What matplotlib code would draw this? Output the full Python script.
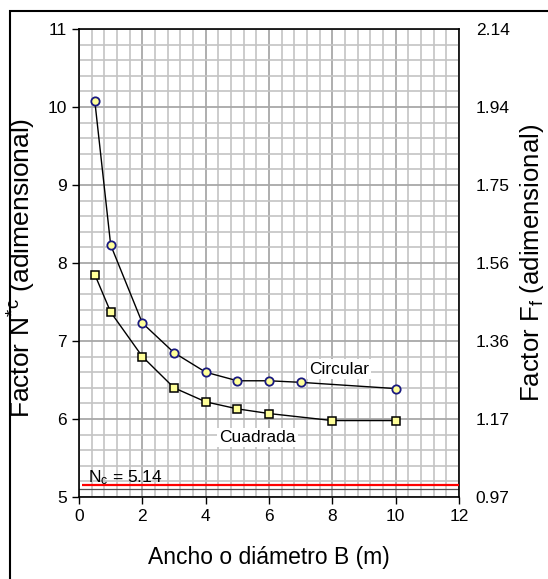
import numpy as np
import matplotlib.pyplot as plt
from matplotlib.ticker import MultipleLocator
from matplotlib.patches import Rectangle

plt.rcParams['font.family'] = ['Liberation Sans', 'DejaVu Sans']
plt.rcParams['mathtext.fontset'] = 'custom'
plt.rcParams['mathtext.rm'] = 'Liberation Sans'
plt.rcParams['mathtext.it'] = 'Liberation Sans'

# Data
b_circ = [0.5, 1, 2, 3, 4, 5, 6, 7, 10]
nc_circ = [10.07, 8.23, 7.23, 6.85, 6.60, 6.49, 6.49, 6.47, 6.39]
b_sq = [0.5, 1, 2, 3, 4, 5, 6, 8, 10]
nc_sq = [7.85, 7.37, 6.80, 6.40, 6.22, 6.13, 6.07, 5.98, 5.98]
nc_strip = 5.14
right_ticks = [5, 6, 7, 8, 9, 10, 11]
right_labels = ['0.97', '1.17', '1.36', '1.56', '1.75', '1.94', '2.14']

fig = plt.figure(figsize=(5.48, 5.79), dpi=100)
ax = fig.add_axes([0.1442, 0.1416, 0.6934, 0.8084])

# frame around the figure
fig.patches.append(Rectangle((10 / 548, -0.05), 1.1, 1 - 11 / 579 + 0.05,
                             transform=fig.transFigure, fill=False,
                             edgecolor='black', linewidth=1.5))

ax.set_xlim(0, 12)
ax.set_ylim(5, 11)
ax.xaxis.set_major_locator(MultipleLocator(2))
ax.xaxis.set_minor_locator(MultipleLocator(0.4))
ax.yaxis.set_major_locator(MultipleLocator(1))
ax.yaxis.set_minor_locator(MultipleLocator(0.2))
ax.grid(which='minor', color='#c4c4c4', linewidth=1.2)
ax.grid(which='major', color='#a8a8a8', linewidth=1.3)
ax.set_axisbelow(True)
ax.tick_params(which='minor', length=0)
ax.tick_params(which='major', length=5, width=1, labelsize=12.5, direction='out')

ax.axhline(5.1, color='#505050', linewidth=0.9)
ax.hlines(nc_strip + 0.015, 0.1, 12, color='red', linewidth=1.6, zorder=3)

ax.plot(b_circ, nc_circ, color='black', linewidth=1, marker='o', markersize=6,
        markerfacecolor='#ffff99', markeredgecolor='#1a1a80', markeredgewidth=1.3, zorder=4)
ax.plot(b_sq, nc_sq, color='black', linewidth=1, marker='s', markersize=6,
        markerfacecolor='#ffff99', markeredgecolor='black', markeredgewidth=1.1, zorder=4)

box = dict(facecolor='white', edgecolor='none', pad=1.5)
ax.text(8.2, 6.64, 'Circular', fontsize=12.5, ha='center', va='center', bbox=box, zorder=5)
ax.text(5.64, 5.76, 'Cuadrada', fontsize=12.5, ha='center', va='center', bbox=box, zorder=5)
ax.text(0.28, 5.19, r'N$_{\mathregular{c}}$ = 5.14', fontsize=12.5, ha='left', va='baseline', zorder=5)

for s in ax.spines.values():
    s.set_color('black')
    s.set_linewidth(1.2)

ax.set_xlabel('Ancho o diámetro B (m)', fontsize=16.5)
ax.xaxis.set_label_coords(0.5, -0.105)
ax.set_ylabel(r'Factor N$^{*}$$^{\mathregular{c}}$ (adimensional)', fontsize=19)
ax.yaxis.set_label_coords(-0.108, 0.49)

ax2 = ax.twinx()
ax2.set_ylim(5, 11)
ax2.set_yticks(right_ticks)
ax2.set_yticklabels(right_labels)
ax2.tick_params(length=0, labelsize=12.5, pad=12)
ax2.set_ylabel(r'Factor F$_{\mathregular{f}}$ (adimensional)', fontsize=18.5)
ax2.yaxis.set_label_coords(1.155, 0.5)
for s in ax2.spines.values():
    s.set_visible(False)

fig.savefig('out.png', dpi=100)
